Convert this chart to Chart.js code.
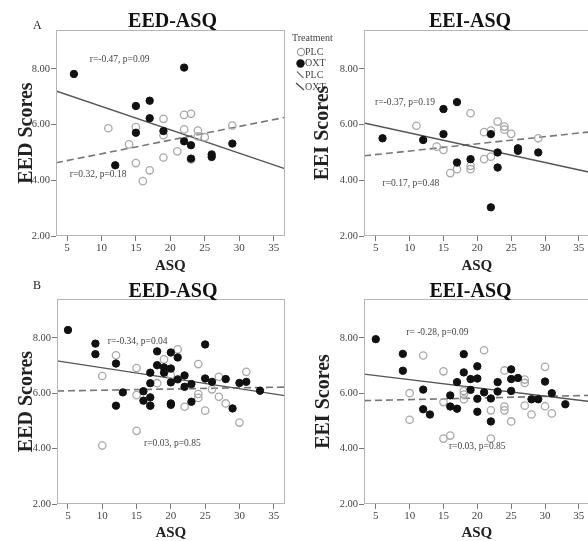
<!DOCTYPE html>
<html>
<head>
<meta charset="utf-8">
<title>EED / EEI vs ASQ</title>
<script src="https://cdn.jsdelivr.net/npm/chart.js@4.4.0/dist/chart.umd.min.js"></script>
<style>
    html, body { margin: 0; padding: 0; background: #fff; overflow: hidden; width: 588px; height: 541px; }
    .panel { position: absolute; }
</style>
</head>
<body>
<div class="panel" style="left:0;top:0"><canvas id="a1" width="290" height="282"></canvas></div>
<div class="panel" style="left:290px;top:0"><canvas id="a2" width="305" height="282"></canvas></div>
<div class="panel" style="left:0;top:270px"><canvas id="b1" width="290" height="280"></canvas></div>
<div class="panel" style="left:290px;top:270px"><canvas id="b2" width="305" height="280"></canvas></div>
<script>
// Tick labels shared by all four panels
const xTicks = [5, 10, 15, 20, 25, 30, 35];
const yTicks = [2, 4, 6, 8];

// A, left: EED scores vs ASQ
const a1PlcAsq = [11, 15, 14, 19, 19, 22, 23, 22, 24, 24, 25, 21, 19, 15, 17, 16, 29, 23];
const a1PlcEed = [5.87, 5.91, 5.29, 6.21, 5.62, 6.35, 6.39, 5.83, 5.79, 5.58, 5.55, 5.04, 4.82, 4.62, 4.36, 3.97, 5.97, 4.75];
const a1OxtAsq = [6, 22, 15, 17, 17, 15, 19, 22, 23, 23, 26, 26, 29, 12];
const a1OxtEed = [7.82, 8.05, 6.67, 6.86, 6.23, 5.71, 5.77, 5.40, 5.26, 4.78, 4.93, 4.84, 5.32, 4.54];
const a1PlcFitX = [3.4, 36.6];
const a1PlcFitY = [4.63, 6.26];
const a1OxtFitX = [3.4, 36.6];
const a1OxtFitY = [7.21, 4.42];
const a1Notes = ['r=-0.47, p=0.09', 'r=0.32, p=0.18'];
const a1NoteX = [8.3, 5.4];
const a1NoteY = [8.33, 4.2];

// A, right: EEI scores vs ASQ
const a2PlcAsq = [11, 19, 14, 15, 21, 22, 23, 24, 24, 25, 29, 21, 22, 16, 17, 19, 19];
const a2PlcEei = [5.96, 6.41, 5.21, 5.09, 5.73, 5.79, 6.11, 5.93, 5.82, 5.67, 5.51, 4.76, 4.85, 4.26, 4.40, 4.40, 4.52];
const a2OxtAsq = [6, 12, 15, 17, 15, 17, 19, 22, 23, 23, 26, 26, 29, 22];
const a2OxtEei = [5.51, 5.45, 6.56, 6.81, 5.66, 4.64, 4.76, 5.66, 5.0, 4.46, 5.15, 5.06, 5.0, 3.03];
const a2PlcFitX = [3.26, 36.6];
const a2PlcFitY = [4.88, 5.74];
const a2OxtFitX = [3.26, 36.6];
const a2OxtFitY = [6.06, 4.29];
const a2Notes = ['r=-0.37, p=0.19', 'r=0.17, p=0.48'];
const a2NoteX = [4.9, 6.0];
const a2NoteY = [6.8, 3.9];

// B, left: EED scores vs ASQ
const b1PlcAsq = [10, 10, 12, 15, 15, 15, 17, 18, 19, 21, 20, 22, 24, 24, 24, 25, 26, 27, 27, 28, 30, 31];
const b1PlcEed = [6.62, 4.11, 7.37, 6.91, 5.93, 4.64, 5.55, 6.36, 7.22, 7.58, 6.65, 5.51, 7.05, 5.97, 5.83, 5.37, 6.14, 6.59, 5.87, 5.63, 4.94, 6.77];
const b1OxtAsq = [5, 9, 9, 12, 12, 13, 16, 16, 17, 17, 17, 17, 18, 18, 19, 19, 20, 20, 20, 20, 20, 21, 21, 22, 22, 23, 23, 25, 25, 26, 28, 29, 30, 31, 33];
const b1OxtEed = [8.28, 7.79, 7.41, 7.07, 5.55, 6.03, 6.07, 5.73, 6.74, 6.36, 5.85, 5.55, 7.51, 7.01, 6.93, 6.74, 7.47, 6.89, 6.39, 5.63, 5.58, 7.29, 6.5, 6.64, 6.23, 6.33, 5.69, 7.76, 6.53, 6.41, 6.51, 5.45, 6.37, 6.41, 6.09];
const b1PlcFitX = [3.4, 36.6];
const b1PlcFitY = [6.08, 6.22];
const b1OxtFitX = [3.4, 36.6];
const b1OxtFitY = [7.17, 5.91];
const b1Notes = ['r=-0.34, p=0.04', 'r=0.03, p=0.85'];
const b1NoteX = [10.8, 16.1];
const b1NoteY = [7.87, 4.19];

// B, right: EEI scores vs ASQ
const b2PlcAsq = [10, 10, 12, 15, 15, 15, 16, 18, 18, 18, 21, 22, 22, 24, 24, 24, 25, 27, 27, 27, 28, 30, 30, 31];
const b2PlcEei = [6.0, 5.04, 7.36, 6.79, 5.68, 4.36, 4.47, 6.08, 5.95, 5.78, 7.55, 5.38, 4.36, 6.82, 5.52, 5.38, 4.98, 6.49, 6.37, 5.55, 5.23, 6.95, 5.53, 5.27];
const b2OxtAsq = [5, 9, 9, 12, 12, 13, 16, 16, 17, 17, 18, 18, 19, 19, 20, 20, 20, 20, 21, 22, 22, 23, 23, 25, 25, 25, 26, 28, 29, 30, 31, 33];
const b2OxtEei = [7.95, 7.42, 6.81, 6.13, 5.42, 5.23, 5.92, 5.52, 6.4, 5.44, 7.41, 6.75, 6.51, 6.12, 6.97, 6.53, 5.8, 5.33, 6.03, 5.81, 4.98, 6.4, 6.06, 6.86, 6.51, 6.08, 6.55, 5.78, 5.78, 6.42, 6.0, 5.6];
const b2PlcFitX = [3.26, 36.6];
const b2PlcFitY = [5.73, 5.92];
const b2OxtFitX = [3.26, 36.6];
const b2OxtFitY = [6.69, 5.70];
const b2Notes = ['r= -0.28, p=0.09', 'r=0.03, p=0.85'];
const b2NoteX = [9.5, 15.8];
const b2NoteY = [8.2, 4.08];

const SERIF = '"Liberation Serif", "Times New Roman", serif';
Chart.defaults.font.family = SERIF;

function toPoints(xs, ys) {
    return xs.map((x, i) => ({x: x, y: ys[i]}));
}

// Legend drawn on the top-right canvas (sits between the two top panels)
function drawLegend(ctx) {
    ctx.font = '10px ' + SERIF;
    ctx.fillStyle = '#444';
    ctx.textAlign = 'left';
    ctx.textBaseline = 'middle';
    ctx.fillText('Treatment', 2, 38);
    ctx.fillText('PLC', 15, 52);
    ctx.fillText('OXT', 15, 63.5);
    ctx.fillText('PLC', 15, 75);
    ctx.fillText('OXT', 15, 87);

    ctx.strokeStyle = '#999';
    ctx.lineWidth = 1.2;
    ctx.beginPath();
    ctx.arc(11, 52, 3.6, 0, Math.PI * 2);
    ctx.stroke();

    ctx.fillStyle = '#111';
    ctx.beginPath();
    ctx.arc(10.5, 63.5, 4.2, 0, Math.PI * 2);
    ctx.fill();

    ctx.strokeStyle = '#777';
    ctx.beginPath();
    ctx.moveTo(7, 71.5);
    ctx.lineTo(13.5, 78);
    ctx.stroke();

    ctx.strokeStyle = '#444';
    ctx.beginPath();
    ctx.moveTo(6, 83);
    ctx.lineTo(14, 90);
    ctx.stroke();
}

function makePanel(id, p) {
    const decor = {
        id: 'decor',
        afterDraw(chart) {
            const ctx = chart.ctx;
            const a = chart.chartArea;
            const xs = chart.scales.x;
            const ys = chart.scales.y;
            ctx.save();

            // plot frame
            ctx.strokeStyle = '#b5b5b5';
            ctx.lineWidth = 1;
            ctx.strokeRect(Math.round(a.left) + 0.5, Math.round(a.top) + 0.5,
                Math.round(a.right - a.left) - 1, Math.round(a.bottom - a.top) - 1);

            // correlation notes
            ctx.font = '9.5px ' + SERIF;
            ctx.fillStyle = '#444';
            ctx.textAlign = 'left';
            ctx.textBaseline = 'middle';
            p.notes.forEach((t, i) => {
                ctx.fillText(t, xs.getPixelForValue(p.noteX[i]), ys.getPixelForValue(p.noteY[i]));
            });

            // panel title
            ctx.font = 'bold 20px ' + SERIF;
            ctx.fillStyle = '#111';
            ctx.textAlign = 'center';
            ctx.textBaseline = 'alphabetic';
            ctx.fillText(p.title, p.titleX, 27);

            // panel letter
            if (p.letter) {
                ctx.font = '12px ' + SERIF;
                ctx.textAlign = 'left';
                ctx.fillStyle = '#222';
                ctx.fillText(p.letter, 33, p.letterY);
            }

            if (p.legend) drawLegend(ctx);
            ctx.restore();
        }
    };

    return new Chart(document.getElementById(id).getContext('2d'), {
        type: 'scatter',
        data: {
            datasets: [{
                label: 'OXT',
                data: toPoints(p.oxtX, p.oxtY),
                pointRadius: 3.7,
                pointBackgroundColor: '#111',
                pointBorderColor: '#111',
                pointBorderWidth: 1,
                order: 0
            }, {
                label: 'PLC',
                data: toPoints(p.plcX, p.plcY),
                pointRadius: 3.7,
                pointBackgroundColor: 'rgba(255,255,255,0)',
                pointBorderColor: '#a9a9a9',
                pointBorderWidth: 1.3,
                order: 1
            }, {
                label: 'OXT fit',
                data: toPoints(p.oxtFitX, p.oxtFitY),
                showLine: true,
                pointRadius: 0,
                borderColor: '#555',
                borderWidth: 1.3,
                order: 2
            }, {
                label: 'PLC fit',
                data: toPoints(p.plcFitX, p.plcFitY),
                showLine: true,
                pointRadius: 0,
                borderColor: '#777',
                borderWidth: 1.6,
                borderDash: [7, 4],
                order: 2
            }]
        },
        options: {
            responsive: false,
            animation: false,
            events: [],
            layout: {
                padding: {top: p.top, right: 2, left: 0, bottom: 0}
            },
            plugins: {
                legend: {display: false},
                tooltip: {enabled: false}
            },
            scales: {
                x: {
                    type: 'linear',
                    min: p.xMin,
                    max: 36.6,
                    afterBuildTicks: s => { s.ticks = xTicks.map(v => ({value: v})); },
                    afterFit: s => { s.height = p.xHeight; },
                    grid: {display: true, drawOnChartArea: false, drawTicks: true, tickLength: 5, tickColor: '#777'},
                    border: {display: false},
                    ticks: {color: '#444', font: {size: 11}, padding: 1, maxRotation: 0, autoSkip: false,
                        callback: v => String(v)},
                    title: {display: true, text: 'ASQ', color: '#222',
                        font: {size: 15, weight: 'bold'}, padding: {top: 0, bottom: p.xTitlePad}}
                },
                y: {
                    type: 'linear',
                    min: 2,
                    max: 9.4,
                    afterBuildTicks: s => { s.ticks = yTicks.map(v => ({value: v})); },
                    afterFit: s => { s.width = p.yWidth; },
                    grid: {display: true, drawOnChartArea: false, drawTicks: true, tickLength: 5, tickColor: '#777'},
                    border: {display: false},
                    ticks: {color: '#444', font: {size: 10.5}, padding: 1,
                        callback: v => v.toFixed(2)},
                    title: {display: true, text: p.yTitle, color: '#222',
                        font: {size: 20, weight: 'bold'}, padding: {top: p.yTitlePad, bottom: 0}}
                }
            }
        },
        plugins: [decor]
    });
}

document.addEventListener('DOMContentLoaded', function() {
    makePanel('a1', {
        plcX: a1PlcAsq, plcY: a1PlcEed, oxtX: a1OxtAsq, oxtY: a1OxtEed,
        plcFitX: a1PlcFitX, plcFitY: a1PlcFitY, oxtFitX: a1OxtFitX, oxtFitY: a1OxtFitY,
        notes: a1Notes, noteX: a1NoteX, noteY: a1NoteY,
        title: 'EED-ASQ', titleX: 172.5, letter: 'A', letterY: 29,
        yTitle: 'EED Scores', yTitlePad: 15, yWidth: 56,
        top: 30, xHeight: 46, xTitlePad: 7, xMin: 3.4
    });
    makePanel('a2', {
        plcX: a2PlcAsq, plcY: a2PlcEei, oxtX: a2OxtAsq, oxtY: a2OxtEei,
        plcFitX: a2PlcFitX, plcFitY: a2PlcFitY, oxtFitX: a2OxtFitX, oxtFitY: a2OxtFitY,
        notes: a2Notes, noteX: a2NoteX, noteY: a2NoteY,
        title: 'EEI-ASQ', titleX: 180, legend: true,
        yTitle: 'EEI Scores', yTitlePad: 21, yWidth: 74,
        top: 30, xHeight: 46, xTitlePad: 7, xMin: 3.26
    });
    makePanel('b1', {
        plcX: b1PlcAsq, plcY: b1PlcEed, oxtX: b1OxtAsq, oxtY: b1OxtEed,
        plcFitX: b1PlcFitX, plcFitY: b1PlcFitY, oxtFitX: b1OxtFitX, oxtFitY: b1OxtFitY,
        notes: b1Notes, noteX: b1NoteX, noteY: b1NoteY,
        title: 'EED-ASQ', titleX: 173, letter: 'B', letterY: 19,
        yTitle: 'EED Scores', yTitlePad: 15, yWidth: 57,
        top: 29, xHeight: 46, xTitlePad: 8, xMin: 3.4
    });
    makePanel('b2', {
        plcX: b2PlcAsq, plcY: b2PlcEei, oxtX: b2OxtAsq, oxtY: b2OxtEei,
        plcFitX: b2PlcFitX, plcFitY: b2PlcFitY, oxtFitX: b2OxtFitX, oxtFitY: b2OxtFitY,
        notes: b2Notes, noteX: b2NoteX, noteY: b2NoteY,
        title: 'EEI-ASQ', titleX: 180.5,
        yTitle: 'EEI Scores', yTitlePad: 22, yWidth: 74,
        top: 29, xHeight: 46, xTitlePad: 8, xMin: 3.26
    });
});
</script>
</body>
</html>
